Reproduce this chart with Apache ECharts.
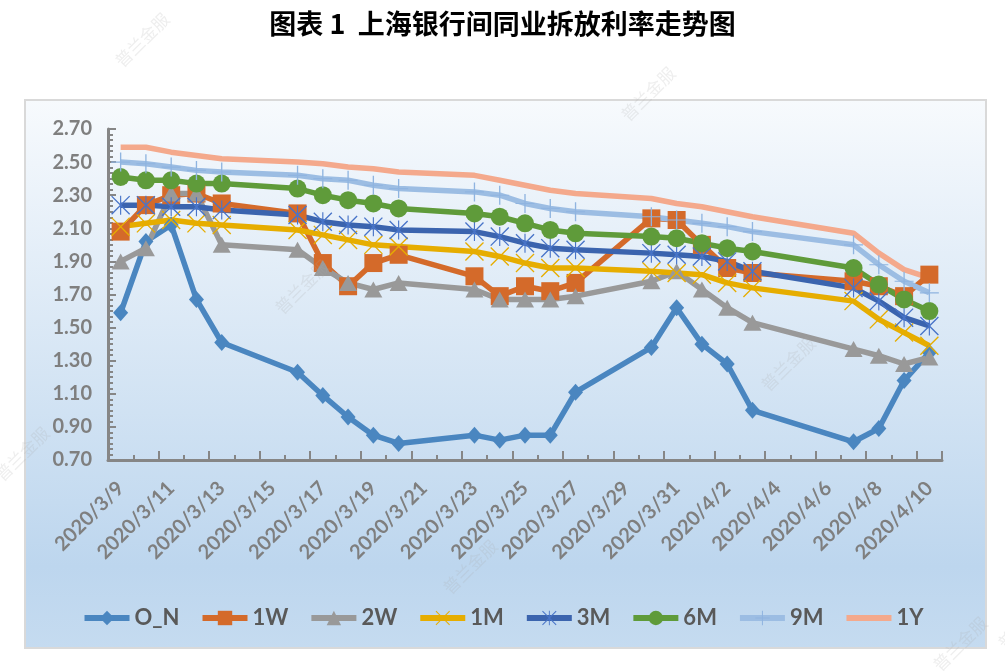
<!DOCTYPE html>
<html>
<head>
<meta charset="utf-8">
<script src="https://cdn.jsdelivr.net/npm/echarts@6/dist/echarts.min.js"></script>
<style>html,body{margin:0;padding:0;background:#fff;}#c{width:1005px;height:671px;}</style>
</head>
<body>
<div id="c"></div>
<script>
const categories = ['2020/3/9','2020/3/10','2020/3/11','2020/3/12','2020/3/13','2020/3/14','2020/3/15','2020/3/16','2020/3/17','2020/3/18','2020/3/19','2020/3/20','2020/3/21','2020/3/22','2020/3/23','2020/3/24','2020/3/25','2020/3/26','2020/3/27','2020/3/28','2020/3/29','2020/3/30','2020/3/31','2020/4/1','2020/4/2','2020/4/3','2020/4/4','2020/4/5','2020/4/6','2020/4/7','2020/4/8','2020/4/9','2020/4/10'];
const n = null;
const ON  = [1.59,2.02,2.12,1.67,1.41,n,n,1.23,1.09,0.96,0.85,0.80,n,n,0.85,0.82,0.85,0.85,1.11,n,n,1.38,1.62,1.40,1.28,1.00,n,n,n,0.81,0.89,1.18,1.35];
const W1  = [2.08,2.24,2.30,2.31,2.25,n,n,2.19,1.89,1.75,1.89,1.94,n,n,1.81,1.69,1.75,1.72,1.77,n,n,2.16,2.15,2.00,1.86,1.83,n,n,n,1.78,1.75,1.69,1.82];
const W2  = [1.90,1.98,2.31,2.31,2.00,n,n,1.97,1.86,1.77,1.73,1.77,n,n,1.73,1.67,1.67,1.67,1.69,n,n,1.78,1.84,1.73,1.62,1.53,n,n,n,1.37,1.33,1.28,1.32];
const M1  = [2.11,2.13,2.15,2.13,2.12,n,n,2.09,2.06,2.03,2.00,1.99,n,n,1.96,1.93,1.89,1.86,1.86,n,n,1.84,1.83,1.82,1.77,1.74,n,n,n,1.66,1.55,1.47,1.39];
const M3  = [2.24,2.24,2.23,2.23,2.21,n,n,2.18,2.14,2.12,2.11,2.09,n,n,2.08,2.05,2.01,1.98,1.97,n,n,1.95,1.94,1.93,1.90,1.84,n,n,n,1.74,1.66,1.56,1.51];
const M6  = [2.41,2.39,2.39,2.37,2.37,n,n,2.34,2.30,2.27,2.25,2.22,n,n,2.19,2.17,2.13,2.09,2.07,n,n,2.05,2.04,2.01,1.98,1.96,n,n,n,1.86,1.76,1.67,1.60];
const M9  = [2.50,2.49,2.47,2.45,2.44,n,n,2.42,2.40,2.39,2.36,2.34,n,n,2.32,2.30,2.25,2.22,2.20,n,n,2.17,2.15,2.13,2.11,2.08,n,n,n,2.00,1.88,1.78,1.71];
const Y1  = [2.59,2.59,2.56,2.54,2.52,n,n,2.50,2.49,2.47,2.46,2.44,n,n,2.42,2.39,2.36,2.33,2.31,n,n,2.28,2.25,2.23,2.20,2.17,n,n,n,2.07,1.95,1.85,1.80];
const seriesNames = ['O_N','1W','2W','1M','3M','6M','9M','1Y'];
const yMin = 0.7, yMax = 2.7, yStep = 0.2;
const titleText = '图表 1  上海银行间同业拆放利率走势图';
const watermark = '普兰金服';

const X_PATH = 'path://M0,1 L1,0 L20,19 L19,20 Z M19,0 L20,1 L1,20 L0,19 Z';
const STAR_PATH = 'path://M0,1 L1,0 L20,19 L19,20 Z M19,0 L20,1 L1,20 L0,19 Z M9.4,0 L10.6,0 L10.6,20 L9.4,20 Z';
const PLUS_PATH = 'path://M9.3,0 L10.7,0 L10.7,20 L9.3,20 Z M0,9.4 L20,9.4 L20,10.6 L0,10.6 Z';

const styles = [
  {data: ON, color:'#4a86c0', mcolor:'#4a86c0', symbol:'diamond', size:[15,17]},
  {data: W1, color:'#d46a2a', mcolor:'#d46a2a', symbol:'rect', size:18},
  {data: W2, color:'#999999', mcolor:'#999999', symbol:'triangle', size:[18,16]},
  {data: M1, color:'#e6ad00', mcolor:'#e6ad00', symbol:X_PATH, size:19},
  {data: M3, color:'#3b64ae', mcolor:'#4874c8', symbol:STAR_PATH, size:19},
  {data: M6, color:'#5f9b3a', mcolor:'#5f9b3a', symbol:'circle', size:18},
  {data: M9, color:'#9cbde3', mcolor:'#8fb4e0', symbol:PLUS_PATH, size:19},
  {data: Y1, color:'#f4a98c', mcolor:'#f4a98c', symbol:'none', size:0}
];

const font = 'Lato';
const chart = echarts.init(document.getElementById('c'));

const wmPos = [[112,58],[618,112],[272,305],[758,382],[440,585],[930,662],[-8,472],[995,640]];
const graphics = [{
  type:'rect', z:-10, silent:true,
  shape:{x:25,y:100,width:961,height:548},
  style:{
    fill:new echarts.graphic.LinearGradient(0,0,0,1,[
      {offset:0,color:'#f7fafd'},{offset:0.85,color:'#bdd6ee'},{offset:1,color:'#c5dbf0'}]),
    stroke:'#d9d9d9', lineWidth:2
  }
}];
wmPos.forEach(p => graphics.push({
  type:'text', z:100, silent:true, x:p[0], y:p[1], rotation:Math.PI/4,
  style:{text:watermark, fill:'rgba(170,170,170,0.2)', font:'17px "Noto Sans CJK SC"'}
}));

const legendData = seriesNames.map(nm => nm === '1Y' ? {name:nm, itemStyle:{opacity:0}} : {name:nm});

chart.setOption({
  animation:false,
  backgroundColor:'#ffffff',
  title:{text:titleText, left:'center', top:5,
    textStyle:{fontSize:27, fontWeight:'bold', color:'#000', fontFamily:'Noto Sans CJK SC'}},
  graphic:graphics,
  legend:{
    data:legendData, left:'center', top:602, itemWidth:45, itemHeight:18, itemGap:20,
    lineStyle:{width:6},
    textStyle:{fontSize:22, fontWeight:'bold', color:'#595959', fontFamily:font}
  },
  grid:{left:108, right:63, top:129, bottom:211},
  xAxis:[{
    type:'category', data:categories, boundaryGap:true,
    axisLine:{lineStyle:{color:'#868686', width:3}},
    axisTick:{show:true, inside:true, interval:0, length:5, lineStyle:{color:'#868686', width:2}},
    axisLabel:{interval:1, rotate:45, margin:25, color:'#7f7f7f', fontSize:20, fontWeight:'bold', fontFamily:font},
    splitLine:{show:false}
  },{
    type:'category', data:categories, boundaryGap:true, position:'bottom',
    axisLine:{show:false},
    axisTick:{show:true, inside:true, interval:1, length:9, lineStyle:{color:'#868686', width:2}},
    axisLabel:{show:false}, splitLine:{show:false}
  }],
  yAxis:{
    type:'value', min:yMin, max:yMax, interval:yStep,
    axisLine:{show:true, lineStyle:{color:'#868686', width:3}},
    axisTick:{show:true, inside:true, length:8, lineStyle:{color:'#868686', width:2}},
    minorTick:{show:true, splitNumber:6, length:5, lineStyle:{color:'#868686', width:2}},
    axisLabel:{formatter:v=>v.toFixed(2), margin:16, color:'#7f7f7f', fontSize:20, fontWeight:'bold', fontFamily:font},
    splitLine:{show:false}
  },
  series:styles.map((s,i)=>({
    name:seriesNames[i], type:'line', xAxisIndex:0, data:s.data, connectNulls:true,
    symbol:s.symbol, symbolSize:s.size, showSymbol:s.symbol!=='none', showAllSymbol:true,
    lineStyle:{color:s.color, width:5.5},
    itemStyle:{color:s.mcolor, borderWidth:0},
    emphasis:{disabled:true}
  }))
});
</script>
</body>
</html>
